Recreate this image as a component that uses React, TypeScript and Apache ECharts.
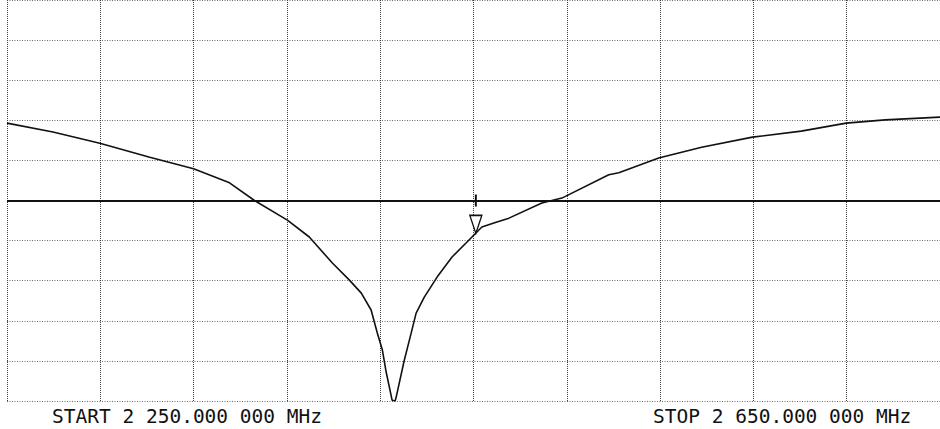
import React, { useEffect, useRef } from "react";
import * as echarts from "echarts";

// Sweep settings (MHz)
const startMHz = 2250;
const stopMHz = 2650;
const divMHz = 40;

// Trace: frequency (MHz) and response (divisions relative to reference line)
const freqMHz = [
  2250, 2269.7, 2289.8, 2311.2, 2330, 2345.4, 2356.1, 2370.2, 2379.6, 2389.5,
  2396.7, 2401.9, 2406.1, 2408.7, 2410.9, 2412.6, 2415.1, 2416.4, 2416.9, 2420.3,
  2423.3, 2425.4, 2428.9, 2434.4, 2440.8, 2446.8, 2450.2, 2453.6, 2459.7, 2465.2,
  2479.3, 2487.9, 2508, 2512.3, 2529.4, 2547.8, 2569.6, 2590.5, 2609.8, 2626.5,
  2650,
];
const traceDiv = [
  1.93, 1.71, 1.43, 1.08, 0.79, 0.44, 0.0, -0.49, -0.91, -1.56,
  -1.98, -2.31, -2.73, -3.29, -3.72, -4.29, -4.98, -5.0, -4.89, -3.99,
  -3.3, -2.81, -2.41, -1.91, -1.41, -1.06, -0.86, -0.66, -0.54, -0.44,
  -0.06, 0.06, 0.64, 0.69, 1.06, 1.33, 1.58, 1.73, 1.93, 2.01,
  2.08,
];

// Reference line level and marker
const referenceDiv = 0;
const markerFreqMHz = 2451;
const markerDiv = -0.82;

const startLabel = "START 2 250.000 000 MHz";
const stopLabel = "STOP 2 650.000 000 MHz";

export default function App() {
  const ref = useRef<HTMLDivElement>(null);
  useEffect(() => {
    if (!ref.current) return;
    const chart = echarts.init(ref.current, null, { renderer: "svg" });
    const data = freqMHz.map((f, i) => [f - startMHz, traceDiv[i]]);
    chart.setOption({
      animation: false,
      backgroundColor: "#ffffff",
      grid: { left: 7, top: 0, width: 935, height: 401, containLabel: false },
      xAxis: {
        type: "value",
        min: 0,
        max: stopMHz - startMHz,
        interval: divMHz,
        axisLine: { show: false },
        axisTick: { show: false },
        axisLabel: { show: false },
        splitLine: {
          show: true,
          lineStyle: { color: "#3c3c3c", width: 1, type: [1, 1] },
        },
      },
      yAxis: {
        type: "value",
        min: -5,
        max: 5,
        interval: 1,
        axisLine: { show: false },
        axisTick: { show: false },
        axisLabel: { show: false },
        splitLine: {
          show: true,
          lineStyle: { color: "#6a6a6a", width: 1, type: [1, 1.5] },
        },
      },
      series: [
        {
          type: "line",
          data,
          showSymbol: false,
          symbol: "none",
          lineStyle: { color: "#111111", width: 1.6 },
          z: 5,
          markLine: {
            silent: true,
            symbol: "none",
            label: { show: false },
            lineStyle: { color: "#111111", width: 2, type: "solid" },
            data: [{ yAxis: referenceDiv }],
          },
          markPoint: {
            silent: true,
            label: { show: false },
            data: [
              {
                coord: [markerFreqMHz - startMHz, markerDiv],
                symbol: "triangle",
                symbolRotate: 180,
                symbolSize: [12, 18],
                symbolOffset: [0, -9],
                itemStyle: { color: "#ffffff", borderColor: "#111111", borderWidth: 1.5 },
              },
              {
                coord: [markerFreqMHz - startMHz, referenceDiv],
                symbol: "rect",
                symbolSize: [2, 12],
                itemStyle: { color: "#111111" },
              },
            ],
          },
        },
      ],
      graphic: [
        {
          type: "text",
          left: 52,
          top: 406,
          style: {
            text: startLabel,
            fill: "#111111",
            font: "19.5px 'DejaVu Sans Mono'",
          },
        },
        {
          type: "text",
          left: 653,
          top: 406,
          style: {
            text: stopLabel,
            fill: "#111111",
            font: "19.5px 'DejaVu Sans Mono'",
          },
        },
      ],
    });
    return () => chart.dispose();
  }, []);
  return (
    <div
      ref={ref}
      style={{ position: "fixed", left: 0, top: 0, width: 940, height: 429, background: "#fff" }}
    />
  );
}
